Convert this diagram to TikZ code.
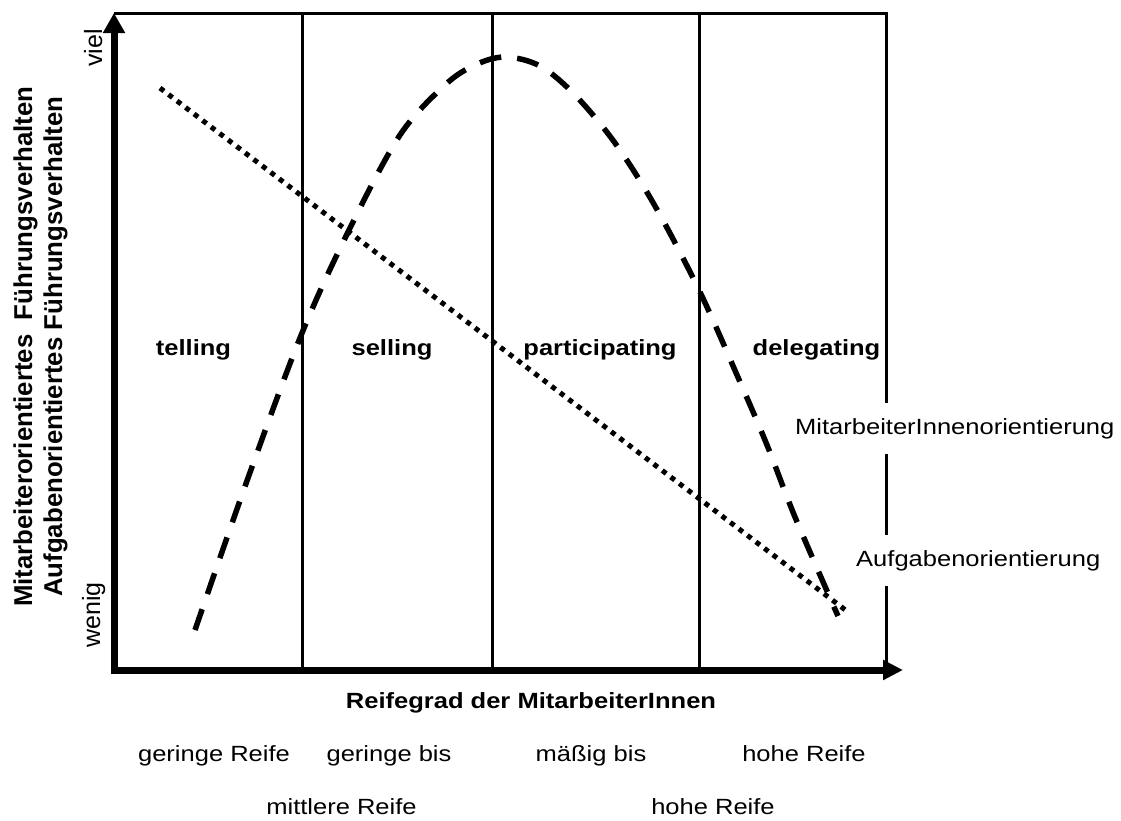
\documentclass[tikz,border=0pt]{standalone}
\usepackage{fontspec}
\setmainfont{Liberation Sans}
\newfontfamily\widefont[FakeStretch=1.16]{Liberation Sans}
\usetikzlibrary{arrows.meta}
\begin{document}
\begin{tikzpicture}[x=1pt,y=-1pt,
  axisline/.style={line width=7pt, line join=miter},
  gridline/.style={line width=3pt, line join=miter},
  curvedash/.style={line width=5.5pt, dash pattern=on 22pt off 16pt},
  curvedot/.style={line width=5pt, dash pattern=on 5pt off 5.7pt},
  hlbl/.style={font=\widefont\fontsize{22}{26}\selectfont, inner sep=0pt},
  hbold/.style={font=\widefont\bfseries\fontsize{22}{26}\selectfont, inner sep=0pt},
  vlbl/.style={rotate=90, anchor=base west, inner sep=0pt, font=\fontsize{25}{30}\selectfont},
  vbold/.style={rotate=90, anchor=base west, inner sep=0pt, font=\bfseries\fontsize{25.8}{30}\selectfont},
  boxlbl/.style={font=\widefont\fontsize{22}{26}\selectfont, fill=white, anchor=base west, inner ysep=15pt, inner xsep=19pt}
]
\useasboundingbox (0,0) rectangle (1121,820);
% coordinates
\coordinate (ytip) at (114,13);
\coordinate (orig) at (114,670);
\coordinate (xtip) at (903,670);
\coordinate (tl) at (114,13.5);
\coordinate (tr) at (886,13.5);
\coordinate (br) at (886,670);
\coordinate (v1t) at (302,13.5); \coordinate (v1b) at (302,670);
\coordinate (v2t) at (492,13.5); \coordinate (v2b) at (492,670);
\coordinate (v3t) at (699,13.5); \coordinate (v3b) at (699,670);
\coordinate (dotA) at (160,88);
\coordinate (dotB) at (848,612);
% frame and grid
\draw[gridline] (tl) -- (tr) -- (br);
\draw[gridline] (v1t) -- (v1b);
\draw[gridline] (v2t) -- (v2b);
\draw[gridline] (v3t) -- (v3b);
% axes
\draw[axisline, {Triangle[length=20pt,width=21pt]}-{Triangle[length=20pt,width=19pt]}] (ytip) -- (orig) -- (xtip);
% curves
\draw[curvedash] plot[smooth, tension=0.55] coordinates {(195,630) (248,478) (302,333) (350,228) (400,135) (445,85) (475,65) (505,57) (540,66) (575,95) (615,143) (655,206) (699,290) (737,375) (767,445) (795,517) (838,616)};
\draw[curvedot] (dotA) -- (dotB);
% style labels
\node[hbold, anchor=base] (telling) at (193.5,355) {telling};
\node[hbold, anchor=base] (selling) at (392,355) {selling};
\node[hbold, anchor=base] (participating) at (600,355) {participating};
\node[hbold, anchor=base] (delegating) at (816.5,355) {delegating};
% legend labels
\node[boxlbl] (mio) at (776,434) {MitarbeiterInnenorientierung};
\node[boxlbl] (ao) at (837,566) {Aufgabenorientierung};
% axis labels
\node[hbold, anchor=base] (reife) at (531,708) {Reifegrad der MitarbeiterInnen};
\node[hlbl, anchor=base] (g1) at (214,761) {geringe Reife};
\node[hlbl, anchor=base] (g2) at (389,761) {geringe bis};
\node[hlbl, anchor=base] (g3) at (591,761) {mäßig bis};
\node[hlbl, anchor=base] (g4) at (804,761) {hohe Reife};
\node[hlbl, anchor=base] (g5) at (341.5,814) {mittlere Reife};
\node[hlbl, anchor=base] (g6) at (713,814) {hohe Reife};
% vertical labels
\node[vbold] (yl1) at (32,607) {Mitarbeiterorientiertes\ \ Führungsverhalten};
\node[vbold] (yl2) at (62,597) {Aufgabenorientiertes Führungsverhalten};
\node[vlbl] (viel) at (102,67) {viel};
\node[vlbl] (wenig) at (100,648) {wenig};
\end{tikzpicture}
\end{document}
